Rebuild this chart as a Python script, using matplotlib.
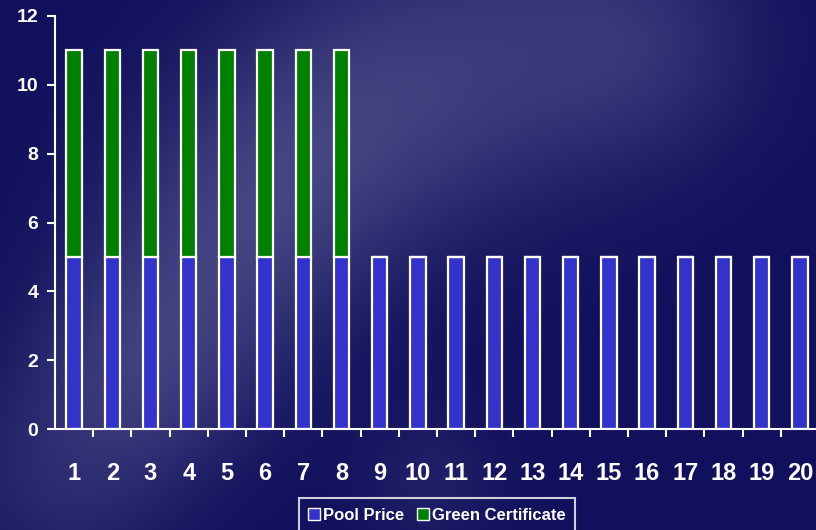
import numpy as np
import matplotlib.pyplot as plt
from matplotlib.patches import Patch

plt.rcParams['font.family'] = ['Liberation Sans', 'DejaVu Sans']
plt.rcParams['font.weight'] = 'bold'

years = [str(i) for i in range(1, 21)]
pool_price = [5] * 20
green_cert = [6, 6, 6, 6, 6, 6, 6, 6] + [0] * 12

W, H = 816, 530
fig = plt.figure(figsize=(W / 100, H / 100), dpi=100)

# background: dark navy with soft lighter swirl
yy, xx = np.mgrid[0:H, 0:W]
base = np.array([16, 16, 92], float) / 255
light = np.array([78, 78, 138], float) / 255
blobs = [
    (150, 360, 80, 0.6),
    (230, 230, 90, 0.55),
    (330, 130, 100, 0.5),
    (470, 60, 110, 0.5),
    (640, 40, 90, 0.45),
    (60, 480, 80, 0.35),
    (430, 480, 50, 0.25),
]
w = np.zeros((H, W))
for cx, cy, r, a in blobs:
    w += a * np.exp(-((xx - cx) ** 2 + (yy - cy) ** 2) / (2 * r ** 2))
w = np.clip(w, 0, 1)
img = base[None, None, :] * (1 - w[..., None]) + light[None, None, :] * w[..., None]
bg = fig.add_axes([0, 0, 1, 1])
bg.imshow(img, aspect='auto', extent=[0, W, H, 0])
bg.axis('off')

ax = fig.add_axes([55 / W, 1 - 429 / H, 764 / W, 413 / H])
ax.patch.set_alpha(0)
x = np.arange(len(years))
ax.bar(x, pool_price, width=0.4, color='#3333cc', edgecolor='white', linewidth=1.6)
ax.bar(x, green_cert, width=0.4, bottom=pool_price, color='#008000',
       edgecolor='white', linewidth=1.6)

ax.set_xlim(-0.5, 19.5)
ax.set_ylim(0, 12)
ax.set_yticks(range(0, 13, 2))
ax.set_xticks(x)
ax.set_xticklabels(years, fontsize=17, fontweight='bold', color='white')
ax.tick_params(axis='x', length=0, pad=24)
ax.set_xticks(np.arange(0.5, 19.5, 1), minor=True)
ax.tick_params(axis='x', which='minor', length=6, width=1.5, color='white', direction='out')
ax.tick_params(axis='y', length=6, width=1.5, color='white', labelcolor='white',
               labelsize=14, pad=6)
for lab in ax.get_yticklabels():
    lab.set_fontweight('bold')
for s in ['top', 'right']:
    ax.spines[s].set_visible(False)
for s in ['left', 'bottom']:
    ax.spines[s].set_color('white')
    ax.spines[s].set_linewidth(1.5)

handles = [Patch(facecolor='#3333cc', edgecolor='white', label='Pool Price'),
           Patch(facecolor='#008000', edgecolor='white', label='Green Certificate')]
leg = fig.legend(handles=handles, loc='center', bbox_to_anchor=(437 / W, 1 - 515 / H),
                 ncol=2, frameon=True, fontsize=12, handlelength=0.7, handleheight=0.7,
                 handletextpad=0.2, columnspacing=0.8, borderpad=0.25)
leg.get_frame().set_facecolor('none')
leg.get_frame().set_edgecolor('white')
leg.get_frame().set_linewidth(1.5)
leg.get_frame().set_boxstyle('square')
for t in leg.get_texts():
    t.set_color('white')
    t.set_fontweight('bold')

fig.savefig('out.png', dpi=100)
